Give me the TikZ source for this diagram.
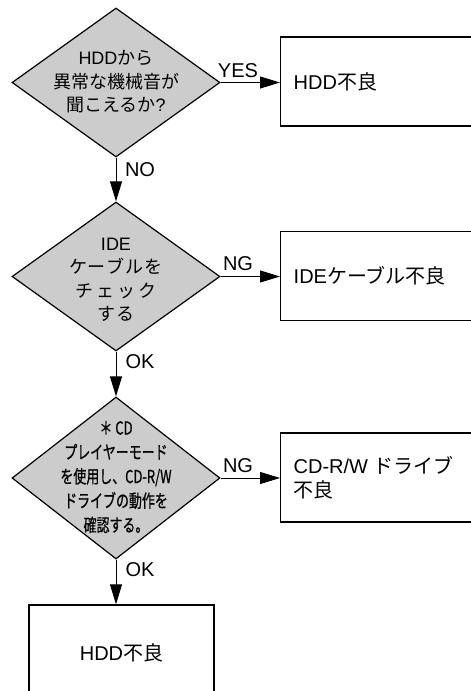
\documentclass[tikz,border=0pt]{standalone}
\usepackage{fontspec}
\setmainfont{Liberation Sans}
\newfontfamily\jp{Noto Sans CJK JP}
\newfontfamily\jpc[FakeStretch=0.72,FakeBold=0.6]{Noto Sans CJK JP}
\usetikzlibrary{shapes.geometric,arrows.meta}
\definecolor{decgray}{RGB}{204,204,204}
\tikzset{
  decbox/.style={diamond, draw=black, fill=decgray, line width=1.2pt, inner sep=0pt,
    minimum width=208pt, minimum height=149pt},
  dectext/.style={align=center, inner sep=0pt, font=\fontsize{18}{23.5}\selectfont},
  resbox/.style={rectangle, draw=black, line width=1.4pt, inner xsep=13pt, inner ysep=0pt,
    text width=174pt, align=left, minimum height=89pt, anchor=west,
    font=\fontsize{20}{24}\selectfont},
  endbox/.style={rectangle, draw=black, line width=1.4pt, inner sep=0pt,
    minimum width=185pt, minimum height=96pt, font=\fontsize{20}{24}\selectfont},
  flow/.style={-{Triangle[length=20pt,width=12pt]}, line width=0.9pt},
  lab/.style={inner sep=0pt, font=\fontsize{20}{24}\selectfont}
}
\begin{document}
\begin{tikzpicture}[x=1pt,y=-1pt]
\useasboundingbox (0,0) rectangle (471,691);
\clip (0,0) rectangle (471,691);
% decisions
\node[decbox] (d1) at (116,82.5) {};
\node[dectext] (t1) at (116,82) {HDD{\jp から}\\{\jp 異常な機械音が}\\{\jp 聞こえるか}?};
\node[decbox] (d2) at (116,276.5) {};
\node[dectext] (t2) at (116,280) {IDE\\{\jp ケ\hspace{1pt}ー\hspace{1pt}ブ\hspace{1pt}ル\hspace{1pt}を}\\{\jp チ\hspace{3pt}ェ\hspace{3pt}ッ\hspace{3pt}ク}\\{\jp す\hspace{1pt}る}};
\node[decbox, minimum height=162pt] (d3) at (116,478) {};
\node[dectext, font=\jpc\fontsize{18}{24.3}\selectfont] (t3) at (116,477) {＊\hspace{3pt}CD\\プレイヤーモード\\を使用し、CD-R/W\\ドライブの動作を\\確認する。};
% results
\node[resbox] (r1) at (280,81.5) {HDD{\jp 不良}};
\node[resbox] (r2) at (280,276) {IDE{\jp ケーブル不良}};
\node[resbox] (r3) at (280,477.5) {CD-R/W\hspace{5pt}{\jp ドライブ}\\{\jp 不良}};
\node[endbox] (r4) at (121.5,653) {HDD{\jp 不良}};
% connectors
\draw[flow] (d1.east) -- (r1.west |- d1.east);
\draw[flow] (d1.south) -- (d2.north);
\draw[flow] (d2.east) -- (r2.west |- d2.east);
\draw[flow] (d2.south) -- (d3.north);
\draw[flow] (d3.east) -- (r3.west |- d3.east);
\draw[flow] (d3.south) -- (d3.south |- r4.north);
% labels
\node[lab] (l1) at (238,71) {YES};
\node[lab] (l2) at (140,170) {NO};
\node[lab] (l3) at (238,264) {NG};
\node[lab] (l4) at (140,362) {OK};
\node[lab] (l5) at (238,466) {NG};
\node[lab] (l6) at (140,570) {OK};
\end{tikzpicture}
\end{document}
